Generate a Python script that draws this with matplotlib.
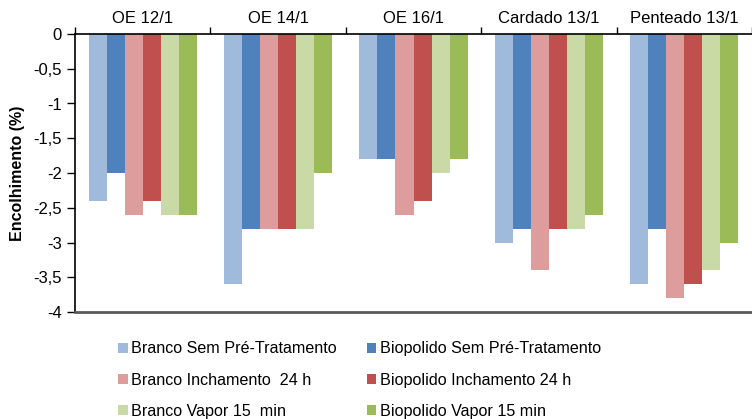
import matplotlib
matplotlib.use("Agg")
import matplotlib.pyplot as plt
import numpy as np

groups = ["OE 12/1", "OE 14/1", "OE 16/1", "Cardado 13/1", "Penteado 13/1"]
series = [
    "Branco Sem Pré-Tratamento",
    "Biopolido Sem Pré-Tratamento",
    "Branco Inchamento  24 h",
    "Biopolido Inchamento 24 h",
    "Branco Vapor 15  min",
    "Biopolido Vapor 15 min",
]
branco_sem = [-2.4, -3.6, -1.8, -3.0, -3.6]
bio_sem = [-2.0, -2.8, -1.8, -2.8, -2.8]
branco_inch = [-2.6, -2.8, -2.6, -3.4, -3.8]
bio_inch = [-2.4, -2.8, -2.4, -2.8, -3.6]
branco_vapor = [-2.6, -2.8, -2.0, -2.8, -3.4]
bio_vapor = [-2.6, -2.0, -1.8, -2.6, -3.0]
values = [branco_sem, bio_sem, branco_inch, bio_inch, branco_vapor, bio_vapor]
colors = ["#A0BADB", "#4F81BD", "#DD9D9C", "#C0504D", "#CADAA6", "#9BBB59"]

plt.rcParams["font.family"] = ["Liberation Sans", "DejaVu Sans"]

fig = plt.figure(figsize=(7.52, 4.19), dpi=100)
ax = fig.add_axes([75 / 752, 107 / 419, 677 / 752, 278 / 419])

x = np.arange(len(groups))
width = 0.8 / len(series)
bars = []
for i, (name, vals, c) in enumerate(zip(series, values, colors)):
    bars.append(ax.bar(x - 0.4 + width * (i + 0.5), vals, width, color=c, label=name))

ax.set_xlim(-0.5, len(groups) - 0.5)
ax.set_ylim(-4, 0)
ax.set_yticks(np.arange(-4, 0.01, 0.5))
ax.set_yticklabels([("%g" % v).replace(".", ",") for v in np.arange(-4, 0.01, 0.5)], fontsize=12)
ax.set_ylabel("Encolhimento (%)", fontsize=11.5, fontweight="bold", labelpad=6)

# category axis sits at zero (top)
ax.xaxis.tick_top()
ax.set_xticks(np.arange(-0.5, len(groups)), labels=[""] * (len(groups) + 1))
ax.set_xticks(x, labels=groups, minor=True, fontsize=12)
ax.tick_params(axis="x", which="major", direction="out", length=5, width=1)
ax.tick_params(axis="x", which="minor", length=0, pad=6)
ax.tick_params(axis="y", direction="out", length=6, width=1)

ax.spines["right"].set_visible(False)
ax.spines["left"].set_linewidth(1.2)
ax.spines["top"].set_linewidth(1.2)
ax.spines["bottom"].set_color("#595959")
ax.spines["bottom"].set_linewidth(2)

# legend is filled row by row in the reference
order = [0, 2, 4, 1, 3, 5]
ax.legend([bars[i] for i in order], [series[i] for i in order],
          loc="upper left", bbox_to_anchor=(112 / 752, 1 - 335 / 419), bbox_transform=fig.transFigure,
          ncol=2, frameon=False, fontsize=11.6, handlelength=0.6, handleheight=0.6,
          handletextpad=0.2, columnspacing=1.85, labelspacing=1.0, borderaxespad=0)

fig.savefig("out.png", dpi=100)
